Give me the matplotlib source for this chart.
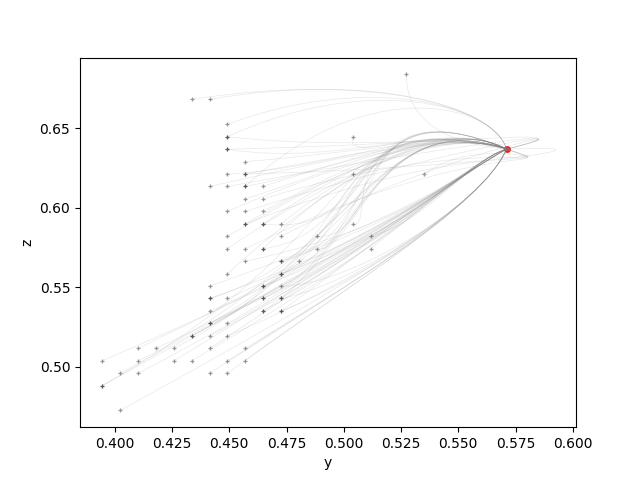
import matplotlib
matplotlib.use("Agg")
from matplotlib import pyplot as plt
from matplotlib.path import Path
from matplotlib.patches import PathPatch


# start points of the trajectories (y, z) and the route each one follows
start_y = [0.5273,
           0.4336, 0.4414,
           0.4492,
           0.4492, 0.4492, 0.5039,
           0.4492, 0.4492,
           0.4570,
           0.4492, 0.4570, 0.4570, 0.5039, 0.5352,
           0.4414, 0.4492, 0.4570, 0.4570, 0.4648,
           0.4570, 0.4648,
           0.4492, 0.4570, 0.4648,
           0.4570, 0.4570, 0.4648, 0.4648, 0.4727, 0.5039,
           0.4492, 0.4727, 0.4883, 0.5117,
           0.4492, 0.4570, 0.4648, 0.4648, 0.4883, 0.5117,
           0.4570, 0.4727, 0.4727, 0.4805,
           0.4492, 0.4727, 0.4727,
           0.4414, 0.4648, 0.4648, 0.4727,
           0.4414, 0.4414, 0.4492, 0.4648, 0.4648, 0.4727, 0.4727,
           0.4414, 0.4648, 0.4648, 0.4727, 0.4727,
           0.4414, 0.4414, 0.4492,
           0.4336, 0.4336, 0.4414, 0.4492,
           0.4102, 0.4180, 0.4258, 0.4414, 0.4570,
           0.3945, 0.4102, 0.4258, 0.4336, 0.4492, 0.4570,
           0.4023, 0.4102, 0.4414, 0.4492,
           0.3945, 0.3945,
           0.4023]
start_z = [0.6836,
           0.6680, 0.6680,
           0.6523,
           0.6445, 0.6445, 0.6445,
           0.6367, 0.6367,
           0.6289,
           0.6211, 0.6211, 0.6211, 0.6211, 0.6211,
           0.6133, 0.6133, 0.6133, 0.6133, 0.6133,
           0.6055, 0.6055,
           0.5977, 0.5977, 0.5977,
           0.5898, 0.5898, 0.5898, 0.5898, 0.5898, 0.5898,
           0.5820, 0.5820, 0.5820, 0.5820,
           0.5742, 0.5742, 0.5742, 0.5742, 0.5742, 0.5742,
           0.5664, 0.5664, 0.5664, 0.5664,
           0.5586, 0.5586, 0.5586,
           0.5508, 0.5508, 0.5508, 0.5508,
           0.5430, 0.5430, 0.5430, 0.5430, 0.5430, 0.5430, 0.5430,
           0.5352, 0.5352, 0.5352, 0.5352, 0.5352,
           0.5273, 0.5273, 0.5273,
           0.5195, 0.5195, 0.5195, 0.5195,
           0.5117, 0.5117, 0.5117, 0.5117, 0.5117,
           0.5039, 0.5039, 0.5039, 0.5039, 0.5039, 0.5039,
           0.4961, 0.4961, 0.4961, 0.4961,
           0.4883, 0.4883,
           0.4727]
route = [7,
         4, 4,
         4,
         4, 3, 10,
         10, 5,
         3,
         10, 3, 8, 3, 12,
         3, 5, 10, 4, 3,
         10, 12,
         3, 5, 10,
         3, 12, 10, 1, 3, 11,
         10, 5, 1, 9,
         3, 12, 10, 11, 2, 0,
         9, 1, 0, 2,
         10, 9, 2,
         0, 9, 11, 6,
         9, 2, 0, 9, 1, 0, 6,
         1, 9, 2, 6, 0,
         9, 11, 0,
         0, 2, 9, 6,
         0, 9, 1, 0, 6,
         9, 2, 0, 9, 6, 6,
         0, 9, 6, 6,
         0, 11,
         6]

# bezier control points of each route
c1_y = [0.530, 0.520, 0.505, 0.510, 0.510, 0.550, 0.500, 0.527, 0.560,
        0.535, 0.500, 0.515, 0.560]
c1_z = [0.595, 0.580, 0.570, 0.635, 0.685, 0.640, 0.550, 0.655, 0.625,
        0.590, 0.625, 0.585, 0.648]
c2_y = [0.550, 0.500, 0.515, 0.550, 0.565, 0.615, 0.560, 0.545, 0.630,
        0.555, 0.545, 0.490, 0.600]
c2_z = [0.620, 0.680, 0.665, 0.648, 0.665, 0.652, 0.600, 0.640, 0.640,
        0.630, 0.657, 0.665, 0.622]

# end point (target)
end_y = 0.5711
end_z = 0.6368

fig, ax = plt.subplots()

ax.plot([end_y], [end_z], 'o', color='red', markersize=4, alpha=0.8, zorder=1)

for sy, sz, r in zip(start_y, start_z, route):
    verts = [(sy, sz), (c1_y[r], c1_z[r]), (c2_y[r], c2_z[r]), (end_y, end_z)]
    codes = [Path.MOVETO, Path.CURVE4, Path.CURVE4, Path.CURVE4]
    ax.add_patch(PathPatch(Path(verts, codes), fill=False, edgecolor='gray',
                           lw=0.5, alpha=0.18, zorder=2))

ax.plot(start_y, start_z, '+', color='black', markersize=3, markeredgewidth=0.9,
        alpha=0.4, linestyle='none', zorder=3)

ax.set_xlim(0.3848, 0.6014)
ax.set_ylim(0.4622, 0.6942)
ax.set_xlabel('y')
ax.set_ylabel('z')

plt.savefig("out.png", dpi=100)
